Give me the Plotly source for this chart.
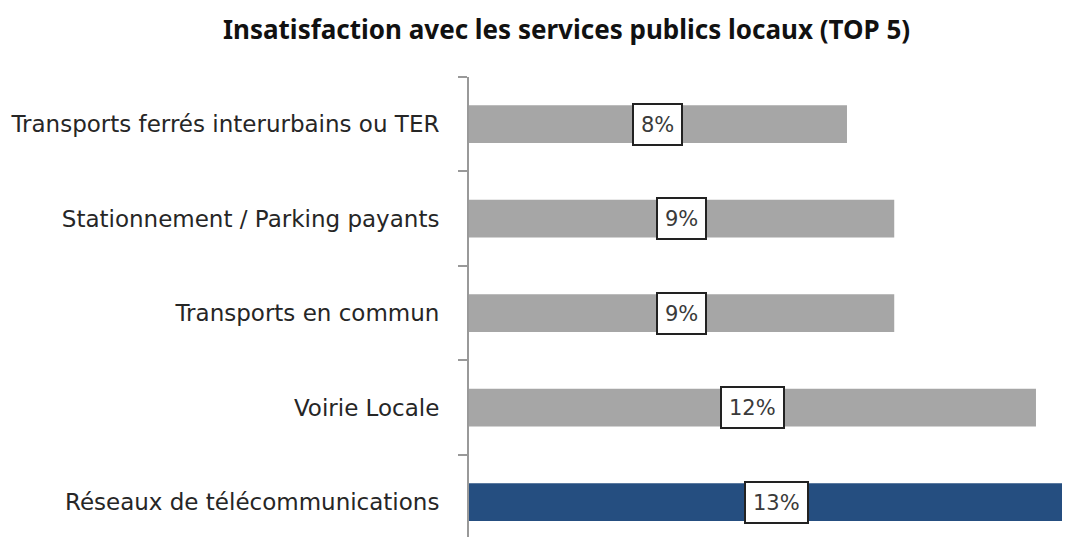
import plotly.graph_objects as go

# bottom-to-top order
categories = [
    "Réseaux de télécommunications",
    "Voirie Locale",
    "Transports en commun",
    "Stationnement / Parking payants",
    "Transports ferrés interurbains ou TER",
]
values = [13, 12, 9, 9, 8]
labels = ["13%", "12%", "9%", "9%", "8%"]
colors = ["#254E80", "#A6A6A6", "#A6A6A6", "#A6A6A6", "#A6A6A6"]

fig = go.Figure()
fig.add_bar(x=values, y=categories, orientation="h", marker_color=colors,
            marker_line_width=0, width=0.4, hoverinfo="skip")

for v, c, t in zip(values, categories, labels):
    fig.add_annotation(x=v / 2, y=c, text=t, showarrow=False, height=25,
                       font=dict(family="DejaVu Sans", size=21, color="#3a3a3a"),
                       bgcolor="white", bordercolor="#222222", borderwidth=2,
                       borderpad=7)

# page body adds an 8px offset, so margins are shifted accordingly
fig.update_layout(
    width=1070, height=537,
    margin=dict(l=461, r=8, t=69, b=8),
    paper_bgcolor="white", plot_bgcolor="white",
    showlegend=False,
    title=dict(text="<b>Insatisfaction avec les services publics locaux (TOP 5)</b>",
               xref="container", x=0.522, xanchor="center",
               yref="container", y=0.959, yanchor="middle",
               font=dict(family="Noto Sans", size=26, color="#111111")),
)
fig.update_xaxes(range=[0, 12.72], visible=False)
fig.update_yaxes(type="category", categoryorder="array", categoryarray=categories,
                 range=[-0.37, 4.5], showline=True, linecolor="#999999", linewidth=2,
                 ticks="outside", tickson="boundaries", ticklen=9, tickcolor="#999999",
                 tickwidth=2, showgrid=False, ticklabelstandoff=23, automargin=False,
                 tickfont=dict(family="DejaVu Sans", size=23, color="#262626"))

fig.write_html("out.html")
